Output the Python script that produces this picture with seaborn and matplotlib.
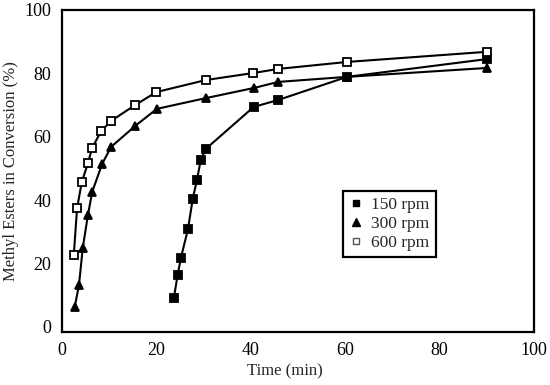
import matplotlib
matplotlib.use("Agg")
import matplotlib.pyplot as plt
from matplotlib.lines import Line2D
import seaborn as sns
import pandas as pd

# Data
time_150 = [23.7, 24.5, 25.2, 26.7, 27.7, 28.6, 29.4, 30.5, 40.6, 45.8, 60.4, 90]
conv_150 = [9.1, 16.4, 21.8, 30.9, 40.4, 46.4, 52.7, 56.2, 69.4, 71.6, 78.9, 84.5]

time_300 = [2.7, 3.6, 4.4, 5.5, 6.4, 8.5, 10.4, 15.5, 20.1, 30.5, 40.7, 45.8, 60.4, 90]
conv_300 = [6.3, 13.2, 24.9, 35.3, 42.6, 51.4, 56.8, 63.4, 68.8, 72.2, 75.4, 77.3, 78.9, 81.7]

time_600 = [2.5, 3.2, 4.2, 5.5, 6.4, 8.3, 10.4, 15.5, 20, 30.5, 40.5, 45.8, 60.4, 90]
conv_600 = [22.7, 37.5, 45.7, 51.7, 56.5, 61.8, 65.0, 70.0, 74.1, 77.9, 80.1, 81.4, 83.6, 86.8]

series_labels = ["150 rpm", "300 rpm", "600 rpm"]
x_ticks = [0, 20, 40, 60, 80, 100]
y_ticks = [0, 20, 40, 60, 80, 100]

sns.set_theme(style="white")
plt.rcParams["font.family"] = ["Liberation Serif", "DejaVu Serif"]

fig = plt.figure(figsize=(5.5, 3.85), dpi=100)
ax = fig.add_axes([0.1127, 0.1377, 0.8582, 0.8364])

styles = [
    dict(marker="s", markerfacecolor="black", markeredgecolor="black"),
    dict(marker="^", markerfacecolor="black", markeredgecolor="black"),
    dict(marker="s", markerfacecolor="white", markeredgecolor="black"),
]
data = [(time_150, conv_150), (time_300, conv_300), (time_600, conv_600)]

for (t, c), lab, st in zip(data, series_labels, styles):
    df = pd.DataFrame({"Time": t, "Conv": c})
    sns.lineplot(data=df, x="Time", y="Conv", ax=ax, color="black",
                 linewidth=1.5, markersize=5.5, markeredgewidth=1.3,
                 sort=False, estimator=None, **st)

ax.set_xlim(0, 100)
ax.set_ylim(-1.6, 100)
ax.set_xticks(x_ticks)
ax.set_yticks(y_ticks)
ax.set_xlabel("Time (min)", fontsize=12, labelpad=5)
ax.xaxis.set_label_coords(0.472, -0.097, transform=ax.transAxes)
ax.xaxis.label.set_va("top")
ax.set_ylabel("Methyl Esters in Conversion (%)", fontsize=12, labelpad=4)
ax.tick_params(axis="both", direction="inout", length=9, width=1.5,
               labelsize=13, colors="black", pad=3)
for sp in ax.spines.values():
    sp.set_visible(True)
    sp.set_color("black")
    sp.set_linewidth(1.6)

handles = [
    Line2D([], [], linestyle="none", marker="s", markersize=5,
           markerfacecolor="black", markeredgecolor="black"),
    Line2D([], [], linestyle="none", marker="^", markersize=5.5,
           markerfacecolor="black", markeredgecolor="black"),
    Line2D([], [], linestyle="none", marker="s", markersize=5,
           markerfacecolor="white", markeredgecolor="#555555"),
]
leg = ax.legend(handles, series_labels, loc="upper left",
                bbox_to_anchor=(0.595, 0.438), fontsize=12.5,
                frameon=True, fancybox=False, framealpha=1,
                handlelength=0.8, handletextpad=0.5, borderpad=0.35,
                labelspacing=0.15, borderaxespad=0)
leg.get_frame().set_edgecolor("black")
leg.get_frame().set_linewidth(1.6)

fig.savefig("out.png", dpi=100)
